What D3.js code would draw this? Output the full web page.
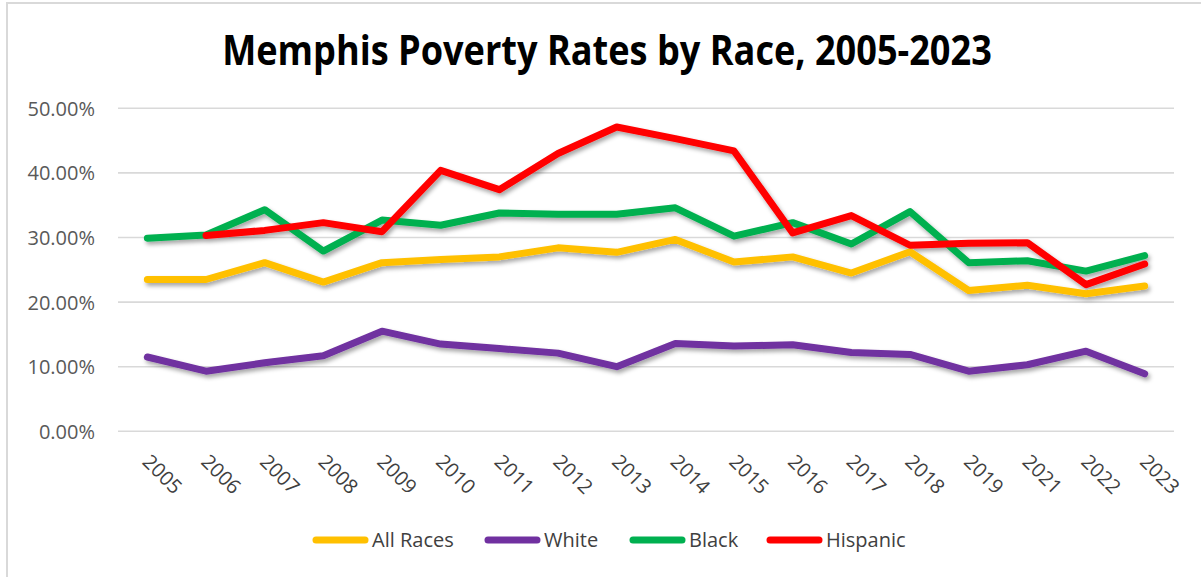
<!DOCTYPE html>
<html><head><meta charset="utf-8">
<script src="https://cdn.jsdelivr.net/npm/d3@7"></script>
<style>html,body{margin:0;padding:0;background:#fff;overflow:hidden}</style>
</head><body>
<svg id="chart" width="1201" height="577"></svg>
<script>
const years = ["2005","2006","2007","2008","2009","2010","2011","2012","2013","2014","2015","2016","2017","2018","2019","2021","2022","2023"];
const allRaces = [23.5,23.5,26.1,23.1,26.1,26.6,27.0,28.4,27.7,29.7,26.2,27.0,24.5,27.8,21.8,22.6,21.3,22.5];
const white    = [11.5,9.3,10.6,11.7,15.5,13.5,12.8,12.1,10.0,13.6,13.2,13.4,12.2,11.9,9.3,10.3,12.4,8.9];
const black    = [29.9,30.4,34.3,27.9,32.7,31.9,33.8,33.6,33.6,34.6,30.2,32.3,29.0,34.0,26.1,26.4,24.8,27.2];
const hispanic = [null,30.3,31.1,32.3,30.9,40.4,37.4,43.0,47.1,45.3,43.4,30.7,33.4,28.8,29.1,29.2,22.7,25.9];
const yTicks = [0,10,20,30,40,50];
const seriesNames = ["All Races","White","Black","Hispanic"];
const seriesColors = ["#FFC000","#7030A0","#00B050","#FF0000"];
const seriesValues = [allRaces, white, black, hispanic];

const svg = d3.select("#chart");
const font = "'Open Sans', 'Liberation Sans', sans-serif";

// outer border
svg.append("rect").attr("x",7).attr("y",3).attr("width",1300).attr("height",700)
  .attr("fill","#fff").attr("stroke","#d9d9d9").attr("stroke-width",2);

const defs = svg.append("defs");
const f = defs.append("filter").attr("id","sh").attr("x","-10%").attr("y","-10%").attr("width","120%").attr("height","130%");
f.append("feDropShadow").attr("dx",2).attr("dy",3).attr("stdDeviation",2.2).attr("flood-color","#000").attr("flood-opacity",0.35);

const x = d3.scaleBand().domain(years).range([118,1174]);
const y = d3.scaleLinear().domain([0,50]).range([431.3,108.3]);

// gridlines
svg.append("g").selectAll("line").data(yTicks).join("line")
  .attr("x1",118).attr("x2",1174).attr("y1",d=>y(d)).attr("y2",d=>y(d))
  .attr("stroke","#d9d9d9").attr("stroke-width",1.6);

// y axis labels
const yAxis = d3.axisLeft(y).tickValues(yTicks).tickSize(0).tickPadding(0)
  .tickFormat(d=>d3.format(".2f")(d)+"%");
const gy = svg.append("g").attr("transform","translate(95,0)").call(yAxis);
gy.select(".domain").remove();
gy.selectAll("text").attr("font-family",font).attr("font-size",20).attr("fill","#595959").attr("dy","0.35em");

// x axis labels
const xAxis = d3.axisBottom(x).tickSize(0).tickPadding(0);
const gx = svg.append("g").attr("transform","translate(0,0)").call(xAxis);
gx.select(".domain").remove();
gx.selectAll(".tick").each(function(d){
  const t = d3.select(this).select("text");
  t.attr("text-anchor","start").attr("dy",null).attr("y",null)
   .attr("transform","translate(-6,463) rotate(45)")
   .attr("font-family",font).attr("font-size",20).attr("fill","#404040");
});

// lines
const line = d3.line().defined(d=>d.v!=null).x(d=>x(d.year)+x.bandwidth()/2).y(d=>y(d.v));
const lg = svg.append("g").attr("filter","url(#sh)");
seriesValues.forEach((vals,i)=>{
  lg.append("path").datum(years.map((yr,j)=>({year:yr,v:vals[j]})))
    .attr("d",line).attr("fill","none").attr("stroke",seriesColors[i])
    .attr("stroke-width",7).attr("stroke-linejoin","round").attr("stroke-linecap","round");
});

// title
const title = svg.append("text").attr("x",607).attr("y",65).attr("text-anchor","middle")
  .attr("font-family",font).attr("font-weight","bold").attr("font-size",41).attr("fill","#000")
  .text("Memphis Poverty Rates by Race, 2005-2023");
const tw = title.node().getComputedTextLength();
const sx = 770/tw;
title.attr("transform",`translate(${607*(1-sx)},0) scale(${sx},1)`);

// legend
const legendX = [313,485,630,767];
const lgd = svg.append("g");
seriesNames.forEach((n,i)=>{
  const g = lgd.append("g").attr("transform",`translate(${legendX[i]},540)`);
  g.append("line").attr("x1",3).attr("x2",52).attr("y1",0).attr("y2",0)
    .attr("stroke",seriesColors[i]).attr("stroke-width",7).attr("stroke-linecap","round");
  g.append("text").attr("x",59).attr("y",0).attr("dy","0.35em")
    .attr("font-family",font).attr("font-size",20).attr("fill","#404040").text(n);
});
</script>
</body></html>
